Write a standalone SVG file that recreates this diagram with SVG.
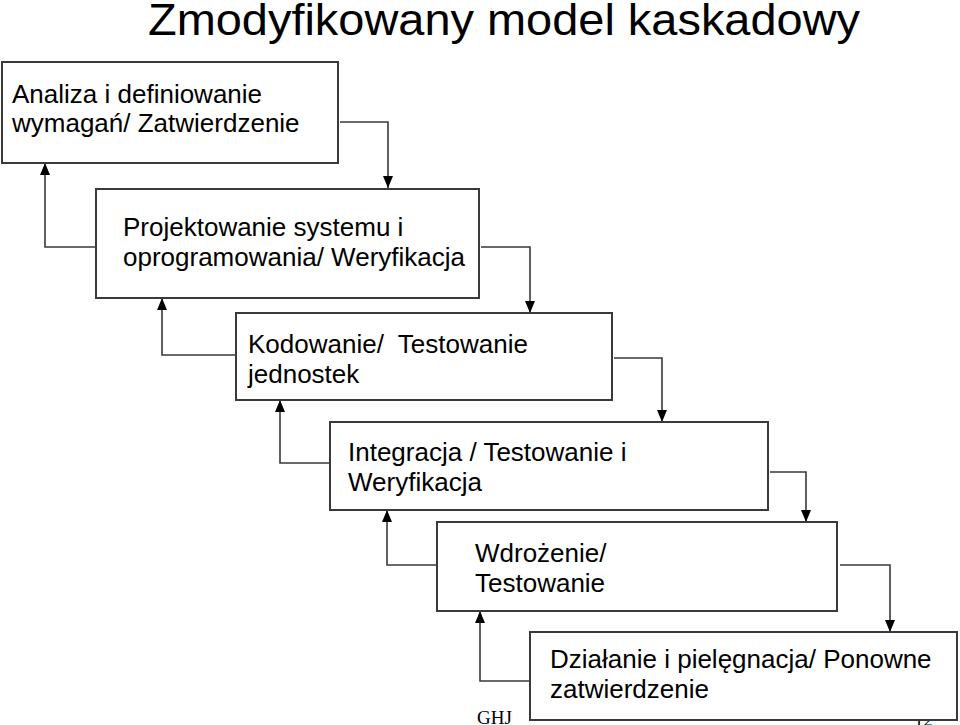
<svg xmlns="http://www.w3.org/2000/svg" width="960" height="725" viewBox="0 0 960 725">
<defs>
<style>
.box{fill:#fff;stroke:#3a3a3a;stroke-width:2}
.t{font-family:"Liberation Sans",Arial,sans-serif;font-size:26px;fill:#000}
.title{font-family:"Liberation Sans",Arial,sans-serif;font-size:44px;fill:#000}
.ft{font-family:"Liberation Serif","Times New Roman",serif;font-size:19px;fill:#000}
.c{fill:none;stroke:#3a3a3a;stroke-width:1.6}
</style>
<marker id="ah" markerUnits="userSpaceOnUse" markerWidth="12" markerHeight="12" viewBox="0 0 12 12" refX="12" refY="6" orient="auto">
<path d="M0,1 L12,6 L0,11 Z" fill="#000"/>
</marker>
</defs>
<rect width="960" height="725" fill="#fff"/>
<text class="title" x="148" y="35" textLength="712" lengthAdjust="spacingAndGlyphs">Zmodyfikowany model kaskadowy</text>
<text class="ft" x="477" y="724">GHJ</text>
<text class="ft" x="914" y="726">12</text>
<g id="connectors">
<path class="c" d="M340,122 H388 V188" marker-end="url(#ah)"/>
<path class="c" d="M481,247 H530 V313" marker-end="url(#ah)"/>
<path class="c" d="M614,358 H662 V422" marker-end="url(#ah)"/>
<path class="c" d="M770,472 H806 V522" marker-end="url(#ah)"/>
<path class="c" d="M840,565 H890 V632" marker-end="url(#ah)"/>
<path class="c" d="M96,247 H45 V163" marker-end="url(#ah)"/>
<path class="c" d="M236,355 H162 V298" marker-end="url(#ah)"/>
<path class="c" d="M330,463 H280 V400" marker-end="url(#ah)"/>
<path class="c" d="M437,565 H387 V510" marker-end="url(#ah)"/>
<path class="c" d="M530,681 H480 V611" marker-end="url(#ah)"/>
</g>
<g id="n1">
<rect class="box" x="2" y="62" width="336" height="101"/>
<text class="t" x="12" y="103">Analiza i definiowanie</text>
<text class="t" x="12" y="132">wymagań/ Zatwierdzenie</text>
</g>
<g id="n2">
<rect class="box" x="96" y="189" width="383" height="109"/>
<text class="t" x="123" y="236">Projektowanie systemu i</text>
<text class="t" x="123" y="266">oprogramowania/ Weryfikacja</text>
</g>
<g id="n3">
<rect class="box" x="236" y="313" width="376" height="87"/>
<text class="t" x="248" y="353" xml:space="preserve">Kodowanie/  Testowanie</text>
<text class="t" x="248" y="383">jednostek</text>
</g>
<g id="n4">
<rect class="box" x="330" y="422" width="438" height="88"/>
<text class="t" x="348" y="461">Integracja / Testowanie i</text>
<text class="t" x="348" y="491">Weryfikacja</text>
</g>
<g id="n5">
<rect class="box" x="437" y="522" width="400" height="89"/>
<text class="t" x="475" y="562">Wdrożenie/</text>
<text class="t" x="475" y="592">Testowanie</text>
</g>
<g id="n6">
<rect class="box" x="530" y="632" width="427" height="88"/>
<text class="t" x="550" y="668">Działanie i pielęgnacja/ Ponowne</text>
<text class="t" x="550" y="698">zatwierdzenie</text>
</g>
</svg>
